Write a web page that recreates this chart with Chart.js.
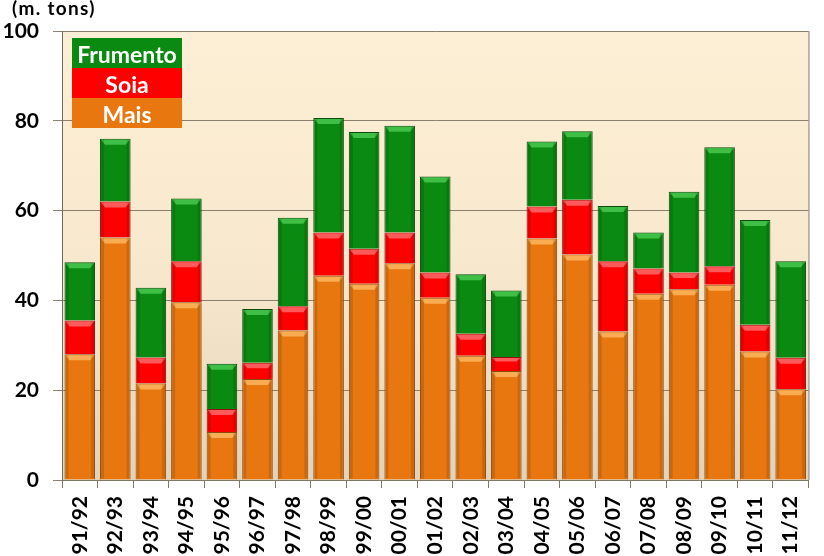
<!DOCTYPE html>
<html>
<head>
<meta charset="utf-8">
<script src="https://cdn.jsdelivr.net/npm/chart.js@4"></script>
<style>
  html, body { margin: 0; padding: 0; background: #fff; }
</style>
</head>
<body>
<canvas id="chart" width="824" height="556"></canvas>
<script>
// stagioni (asse x)
const seasons = ['91/92', '92/93', '93/94', '94/95', '95/96', '96/97', '97/98', '98/99', '99/00', '00/01',
  '01/02', '02/03', '03/04', '04/05', '05/06', '06/07', '07/08', '08/09', '09/10', '10/11', '11/12'];

// valori in milioni di tonnellate
const mais = [28, 54, 21.5, 39.6, 10.7, 22.5, 33.3, 45.5, 43.7, 48.3,
  40.6, 27.7, 24.3, 53.8, 50.2, 33.1, 41.5, 42.5, 43.5, 28.6, 20.2];
const soia = [7.5, 8, 5.8, 9.1, 5.1, 3.6, 5.4, 9.6, 7.8, 6.8,
  5.6, 4.9, 3.1, 7.1, 12.2, 15.6, 5.6, 3.7, 4.1, 6, 7];
const frumento = [13, 14, 15.5, 14, 10.1, 12, 19.7, 25.5, 26, 23.8,
  21.4, 13.2, 14.8, 14.5, 15.3, 12.3, 8, 18, 26.5, 23.3, 21.5];

const yTicks = [0, 20, 40, 60, 80, 100];
const unitLabel = '(m. tons)';

const FONT = 'Lato, "Open Sans", sans-serif';

// sfondo dell'area del grafico, bordo destro, unità e legenda
const decorPlugin = {
  id: 'decor',
  beforeDraw(chart) {
    const { ctx, chartArea: a } = chart;
    const g = ctx.createLinearGradient(0, a.top, 0, a.bottom);
    g.addColorStop(0, '#fdefd5');
    g.addColorStop(0.55, '#f7e8cd');
    g.addColorStop(1, '#e2d2b9');
    ctx.save();
    ctx.fillStyle = g;
    ctx.fillRect(a.left, a.top, a.right - a.left, a.bottom - a.top);
    ctx.restore();
  },
  afterDraw(chart) {
    const { ctx, chartArea: a } = chart;
    ctx.save();
    ctx.strokeStyle = '#7f7668';
    ctx.lineWidth = 1;
    ctx.beginPath();
    ctx.moveTo(a.right + 0.5, a.top);
    ctx.lineTo(a.right + 0.5, a.bottom);
    ctx.stroke();

    ctx.fillStyle = '#000';
    ctx.font = 'bold 19px ' + FONT;
    ctx.letterSpacing = '1.3px';
    ctx.textBaseline = 'alphabetic';
    ctx.textAlign = 'left';
    ctx.fillText(unitLabel, 12, 15);
    ctx.letterSpacing = '0px';

    // legenda: Frumento in alto, Mais in basso
    const ds = chart.data.datasets.slice().reverse();
    const bx = a.left + 10, bw = 110, bh = 30;
    let by = a.top + 7;
    ds.forEach(d => {
      ctx.fillStyle = d.backgroundColor;
      ctx.fillRect(bx, by, bw, bh);
      ctx.fillStyle = '#fff';
      ctx.font = 'bold 23px ' + FONT;
      ctx.textAlign = 'center';
      ctx.fillText(d.label, bx + bw / 2, by + 25);
      by += bh;
    });
    ctx.restore();
  }
};

// effetto smussato sulle barre
const bevelPlugin = {
  id: 'bevel',
  afterDatasetsDraw(chart) {
    const { ctx } = chart;
    ctx.save();
    chart.data.datasets.forEach((d, i) => {
      const meta = chart.getDatasetMeta(i);
      meta.data.forEach(bar => {
        const { x, y, base, width } = bar.getProps(['x', 'y', 'base', 'width'], true);
        const l = x - width / 2, r = x + width / 2;
        const h = base - y;
        if (h < 4) return;
        const t = Math.min(6, h / 3);
        ctx.fillStyle = d.highlight;
        ctx.beginPath();
        ctx.moveTo(l + 1, y + 1);
        ctx.lineTo(r - 1, y + 1);
        ctx.lineTo(r - 5, y + t);
        ctx.lineTo(l + 5, y + t);
        ctx.closePath();
        ctx.fill();
        ctx.fillStyle = 'rgba(0,0,0,0.12)';
        ctx.fillRect(l + 1, y + 1, 3, h - 2);
        ctx.fillRect(r - 4, y + 1, 3, h - 2);
      });
    });
    ctx.restore();
  }
};

new Chart(document.getElementById('chart'), {
  type: 'bar',
  data: {
    labels: seasons,
    datasets: [
      { label: 'Mais', data: mais, backgroundColor: '#e8770f', borderColor: '#8a4a10', highlight: '#f9ac52' },
      { label: 'Soia', data: soia, backgroundColor: '#ff0000', borderColor: '#8c1010', highlight: '#ff5a5a' },
      { label: 'Frumento', data: frumento, backgroundColor: '#0a8a10', borderColor: '#0c4a10', highlight: '#3fbf45' }
    ].map(d => Object.assign(d, { borderWidth: 1, barPercentage: 0.86, categoryPercentage: 1 }))
  },
  options: {
    responsive: false,
    animation: false,
    devicePixelRatio: 1,
    layout: { padding: { top: 31, right: 5, left: 0, bottom: 0 } },
    plugins: {
      legend: { display: false },
      tooltip: { enabled: false }
    },
    scales: {
      x: {
        stacked: true,
        grid: { drawOnChartArea: false, offset: true, tickLength: 8, color: '#7f7668' },
        border: { color: '#7f7668' },
        ticks: {
          minRotation: 90, maxRotation: 90, autoSkip: false, padding: 8,
          color: '#000', font: { family: FONT, weight: 'bold', size: 21 }
        },
        afterFit: s => { s.height = 76; }
      },
      y: {
        stacked: true,
        min: 0, max: 100,
        afterBuildTicks: s => { s.ticks = yTicks.map(v => ({ value: v })); },
        grid: { color: '#8a8070', tickLength: 9 },
        border: { color: '#6e6a64' },
        ticks: {
          padding: 14, color: '#000',
          font: { family: FONT, weight: 'bold', size: 21 }
        },
        afterFit: s => { s.width = 62; }
      }
    }
  },
  plugins: [decorPlugin, bevelPlugin]
});
</script>
</body>
</html>
